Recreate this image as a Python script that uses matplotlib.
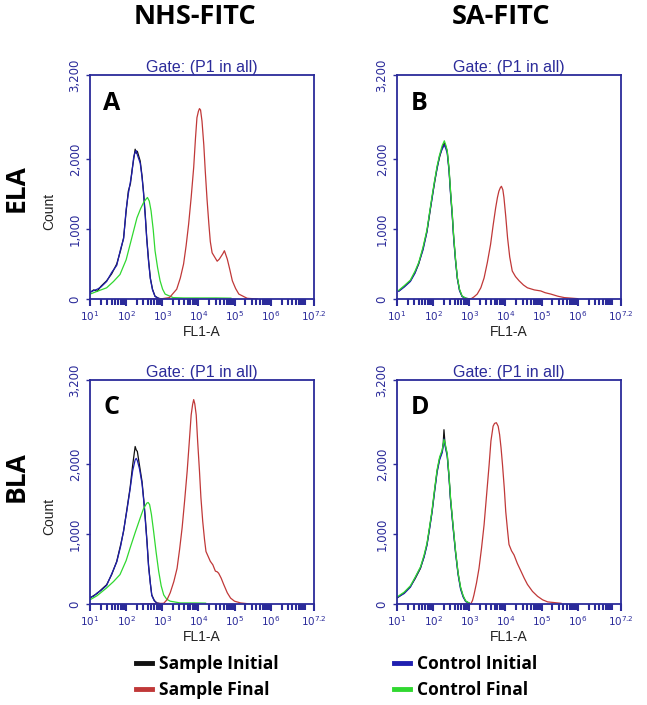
import matplotlib
matplotlib.use('Agg')
import matplotlib.pyplot as plt
from matplotlib.ticker import LogLocator, NullFormatter, FixedLocator
from matplotlib.lines import Line2D

# --- COLOURS ---
NAVY = '#2b2b9a'
C_SI = '#111111'   # sample initial
C_SF = '#c03838'   # sample final
C_CI = '#1f1fb0'   # control initial
C_CF = '#30d830'   # control final

# --- DATA (log10 FL1-A, count) ---
# panel A  (ELA, NHS-FITC)
a_si_x = [1.0, 1.1, 1.2, 1.3, 1.46, 1.6, 1.74, 1.85, 1.93, 2.0, 2.06, 2.12, 2.16, 2.21, 2.25, 2.28, 2.31, 2.35, 2.39, 2.44, 2.48, 2.53, 2.57, 2.62, 2.67, 2.73, 2.8, 2.9, 3.0]
a_si_y = [90, 130, 110, 180, 260, 360, 500, 700, 875, 1250, 1540, 1650, 1830, 2000, 2140, 2080, 2110, 2040, 1970, 1760, 1540, 1200, 875, 560, 300, 140, 40, 10, 0]
a_ci_x = a_si_x
a_ci_y = [100, 120, 140, 170, 250, 380, 480, 720, 860, 1280, 1500, 1680, 1800, 2030, 2100, 2120, 2060, 2000, 1940, 1740, 1520, 1180, 860, 540, 290, 130, 35, 8, 0]
a_cf_x = [1.0, 1.2, 1.46, 1.65, 1.83, 2.0, 2.11, 2.2, 2.3, 2.4, 2.48, 2.54, 2.59, 2.64, 2.69, 2.75, 2.8, 2.87, 2.94, 3.01, 3.08, 3.3, 3.6, 4.0, 4.5, 4.9]
a_cf_y = [70, 110, 160, 250, 350, 560, 780, 960, 1160, 1290, 1375, 1420, 1450, 1400, 1260, 990, 690, 450, 260, 140, 70, 20, 15, 15, 15, 12]
a_sf_x = [2.4, 3.0, 3.2, 3.4, 3.5, 3.59, 3.66, 3.73, 3.8, 3.87, 3.92, 3.96, 4.0, 4.03, 4.06, 4.1, 4.15, 4.19, 4.24, 4.29, 4.33, 4.38, 4.45, 4.52, 4.58, 4.63, 4.68, 4.72, 4.8, 4.87, 4.94, 5.03, 5.12, 5.35, 5.63]
a_sf_y = [0, 5, 20, 140, 300, 500, 760, 1070, 1450, 1880, 2300, 2590, 2680, 2720, 2700, 2540, 2200, 1830, 1420, 1070, 820, 660, 600, 540, 570, 610, 650, 690, 570, 420, 260, 150, 70, 10, 0]

# panel B  (ELA, SA-FITC)
b_si_x = [1.05, 1.2, 1.37, 1.5, 1.6, 1.72, 1.83, 1.9, 1.97, 2.04, 2.11, 2.18, 2.25, 2.31, 2.35, 2.39, 2.44, 2.48, 2.53, 2.57, 2.62, 2.67, 2.73, 2.8, 2.9, 3.04]
b_si_y = [115, 180, 260, 380, 500, 720, 970, 1200, 1450, 1660, 1880, 2030, 2160, 2230, 2180, 2110, 1850, 1540, 1200, 875, 560, 300, 130, 40, 10, 0]
b_ci_x = b_si_x
b_ci_y = [110, 170, 250, 370, 510, 700, 960, 1220, 1430, 1680, 1860, 2050, 2140, 2200, 2150, 2080, 1830, 1510, 1180, 850, 540, 290, 120, 35, 8, 0]
b_cf_x = b_si_x
b_cf_y = [125, 190, 270, 400, 520, 740, 990, 1230, 1470, 1690, 1900, 2060, 2190, 2260, 2200, 2120, 1870, 1560, 1220, 890, 570, 310, 140, 45, 12, 0]
b_sf_x = [2.5, 3.04, 3.13, 3.22, 3.32, 3.41, 3.5, 3.59, 3.66, 3.73, 3.78, 3.82, 3.86, 3.89, 3.93, 3.96, 4.01, 4.06, 4.12, 4.19, 4.28, 4.38, 4.5, 4.61, 4.8, 4.98, 5.1, 5.26, 5.45, 5.63, 6.0]
b_sf_y = [0, 0, 30, 70, 160, 300, 520, 780, 1050, 1300, 1450, 1540, 1590, 1610, 1560, 1450, 1180, 875, 600, 400, 320, 260, 200, 160, 130, 115, 90, 70, 40, 20, 5]

# panel C  (BLA, NHS-FITC)
c_si_x = [1.0, 1.1, 1.2, 1.3, 1.46, 1.6, 1.74, 1.85, 1.93, 2.02, 2.11, 2.18, 2.25, 2.28, 2.31, 2.37, 2.44, 2.49, 2.53, 2.58, 2.62, 2.67, 2.71, 2.78, 2.85, 3.0]
c_si_y = [85, 120, 150, 200, 275, 420, 610, 850, 1040, 1350, 1660, 1980, 2250, 2200, 2180, 1980, 1750, 1480, 1230, 880, 560, 300, 130, 50, 15, 0]
c_ci_x = c_si_x
c_ci_y = [95, 110, 160, 190, 265, 430, 600, 830, 1050, 1330, 1640, 1900, 2060, 2080, 2050, 1930, 1720, 1460, 1200, 860, 540, 290, 120, 45, 12, 0]
c_cf_x = [1.0, 1.2, 1.46, 1.65, 1.83, 2.0, 2.11, 2.25, 2.39, 2.48, 2.57, 2.61, 2.65, 2.7, 2.76, 2.83, 2.9, 2.97, 3.04, 3.12, 3.22, 3.5, 3.9, 4.2]
c_cf_y = [60, 120, 230, 320, 420, 620, 800, 1020, 1230, 1360, 1440, 1450, 1420, 1280, 1040, 740, 470, 260, 130, 70, 40, 15, 15, 12]
c_sf_x = [2.4, 3.04, 3.13, 3.22, 3.32, 3.41, 3.48, 3.55, 3.62, 3.69, 3.75, 3.8, 3.84, 3.87, 3.9, 3.94, 3.98, 4.03, 4.07, 4.12, 4.17, 4.21, 4.27, 4.33, 4.4, 4.47, 4.52, 4.56, 4.63, 4.7, 4.8, 4.89, 5.0, 5.17, 5.44]
c_sf_y = [0, 10, 60, 160, 320, 510, 780, 1090, 1480, 1900, 2330, 2700, 2850, 2920, 2860, 2700, 2320, 1900, 1520, 1180, 920, 750, 680, 610, 560, 470, 460, 440, 370, 280, 160, 85, 40, 15, 0]

# panel D  (BLA, SA-FITC)
d_si_x = [1.0, 1.2, 1.37, 1.5, 1.65, 1.75, 1.83, 1.9, 1.97, 2.04, 2.11, 2.18, 2.25, 2.28, 2.3, 2.33, 2.39, 2.44, 2.48, 2.55, 2.62, 2.69, 2.76, 2.83, 2.9, 3.04]
d_si_y = [85, 160, 250, 360, 510, 680, 850, 1080, 1320, 1620, 1900, 2080, 2180, 2300, 2490, 2280, 2130, 1820, 1510, 1120, 750, 440, 230, 110, 40, 0]
d_ci_x = d_si_x
d_ci_y = [90, 150, 240, 370, 520, 670, 840, 1070, 1310, 1600, 1880, 2060, 2160, 2250, 2360, 2260, 2110, 1800, 1490, 1100, 730, 420, 210, 100, 35, 0]
d_cf_x = d_si_x
d_cf_y = [100, 170, 260, 380, 530, 700, 870, 1100, 1340, 1640, 1920, 2100, 2200, 2280, 2350, 2300, 2150, 1840, 1530, 1140, 760, 450, 240, 120, 45, 0]
d_sf_x = [2.4, 3.04, 3.09, 3.13, 3.2, 3.27, 3.34, 3.41, 3.48, 3.55, 3.6, 3.66, 3.7, 3.75, 3.8, 3.84, 3.88, 3.92, 3.97, 4.01, 4.06, 4.1, 4.17, 4.24, 4.33, 4.43, 4.52, 4.61, 4.75, 4.89, 5.03, 5.17, 5.54]
d_sf_y = [0, 0, 50, 130, 300, 510, 800, 1130, 1560, 1990, 2330, 2540, 2580, 2590, 2540, 2420, 2230, 1990, 1650, 1320, 1050, 850, 760, 700, 580, 470, 370, 280, 180, 110, 60, 30, 10]

panels = [
    ('A', 0, 0, [(a_si_x, a_si_y, C_SI), (a_ci_x, a_ci_y, C_CI), (a_cf_x, a_cf_y, C_CF), (a_sf_x, a_sf_y, C_SF)]),
    ('B', 0, 1, [(b_si_x, b_si_y, C_SI), (b_ci_x, b_ci_y, C_CI), (b_cf_x, b_cf_y, C_CF), (b_sf_x, b_sf_y, C_SF)]),
    ('C', 1, 0, [(c_si_x, c_si_y, C_SI), (c_ci_x, c_ci_y, C_CI), (c_cf_x, c_cf_y, C_CF), (c_sf_x, c_sf_y, C_SF)]),
    ('D', 1, 1, [(d_si_x, d_si_y, C_SI), (d_ci_x, d_ci_y, C_CI), (d_cf_x, d_cf_y, C_CF), (d_sf_x, d_sf_y, C_SF)]),
]

col_titles = ['NHS-FITC', 'SA-FITC']
row_titles = ['ELA', 'BLA']
x_tick_pos = [1, 2, 3, 4, 5, 6, 7.2]
x_tick_lab = [r'$10^{1}$', r'$10^{2}$', r'$10^{3}$', r'$10^{4}$', r'$10^{5}$', r'$10^{6}$', r'$10^{7.2}$']
y_tick_pos = [0, 1000, 2000, 3200]
y_tick_lab = ['0', '1,000', '2,000', '3,200']

W, H = 647, 705
fig = plt.figure(figsize=(W / 100, H / 100), dpi=100)

# --- PANEL GEOMETRY (pixels) ---
lefts = [90, 397]
tops = [75, 380]
aw, ah = 224, 224

for letter, r, c, curves in panels:
    ax = fig.add_axes([lefts[c] / W, 1 - (tops[r] + ah) / H, aw / W, ah / H])
    for xs, ys, col in curves:
        ax.plot([10 ** v for v in xs], ys, color=col, lw=0.9)
    ax.set_xscale('log')
    ax.set_xlim(10 ** 1, 10 ** 7.2)
    ax.set_ylim(0, 3200)
    ax.xaxis.set_major_locator(FixedLocator([10 ** v for v in x_tick_pos]))
    ax.set_xticklabels(x_tick_lab)
    ax.xaxis.set_minor_locator(LogLocator(base=10, subs=range(2, 10), numticks=20))
    ax.xaxis.set_minor_formatter(NullFormatter())
    ax.set_yticks(y_tick_pos)
    ax.set_yticklabels(y_tick_lab, rotation=90, va='center')
    ax.tick_params(axis='x', which='major', colors=NAVY, labelsize=7.5, length=5, width=1.5, pad=2)
    ax.tick_params(axis='x', which='minor', colors=NAVY, length=4, width=1.5)
    ax.tick_params(axis='y', colors=NAVY, labelsize=8.5, length=3, width=1, pad=3)
    for sp in ax.spines.values():
        sp.set_color(NAVY)
        sp.set_linewidth(1.3)
    ax.set_title('Gate: (P1 in all)', color=NAVY, fontsize=11.5, pad=2, family='Liberation Sans')
    ax.set_xlabel('FL1-A', fontsize=10, color='#222222', family='Liberation Sans')
    ax.xaxis.set_label_coords(0.5, -26 / ah, transform=ax.transAxes)
    if c == 0:
        ax.set_ylabel('Count', fontsize=10, color='#222222', family='Liberation Sans')
        ax.yaxis.set_label_coords(-34 / aw, 0.39, transform=ax.transAxes)
    ax.text(0.06, 0.875, letter, transform=ax.transAxes, fontsize=18, fontweight='bold',
            family='Open Sans', va='center', ha='left')

# column and row headers
col_x = [195, 501]
for i, t in enumerate(col_titles):
    fig.text(col_x[i] / W, 1 - 17 / H, t, fontsize=19.5, fontweight='bold',
             family='Open Sans', ha='center', va='center')
row_y = [188, 477]
for i, t in enumerate(row_titles):
    fig.text(16 / W, 1 - row_y[i] / H, t, fontsize=19, fontweight='bold',
             family='Open Sans', ha='center', va='center', rotation=90)

# --- LEGENDS ---
leg_kw = dict(frameon=False, handlelength=0.95, handletextpad=0.35, labelspacing=0.45,
              borderpad=0, borderaxespad=0,
              prop={'family': 'Open Sans', 'weight': 'bold', 'size': 12.5})
h1 = [Line2D([], [], color=C_SI, lw=3.5), Line2D([], [], color=C_SF, lw=3.5)]
h2 = [Line2D([], [], color=C_CI, lw=3.5), Line2D([], [], color=C_CF, lw=3.5)]
fig.legend(h1, ['Sample Initial', 'Sample Final'], loc='center left',
           bbox_to_anchor=(136 / W, 1 - 677 / H), **leg_kw)
fig.legend(h2, ['Control Initial', 'Control Final'], loc='center left',
           bbox_to_anchor=(394 / W, 1 - 677 / H), **leg_kw)

fig.savefig('out.png', dpi=100)
